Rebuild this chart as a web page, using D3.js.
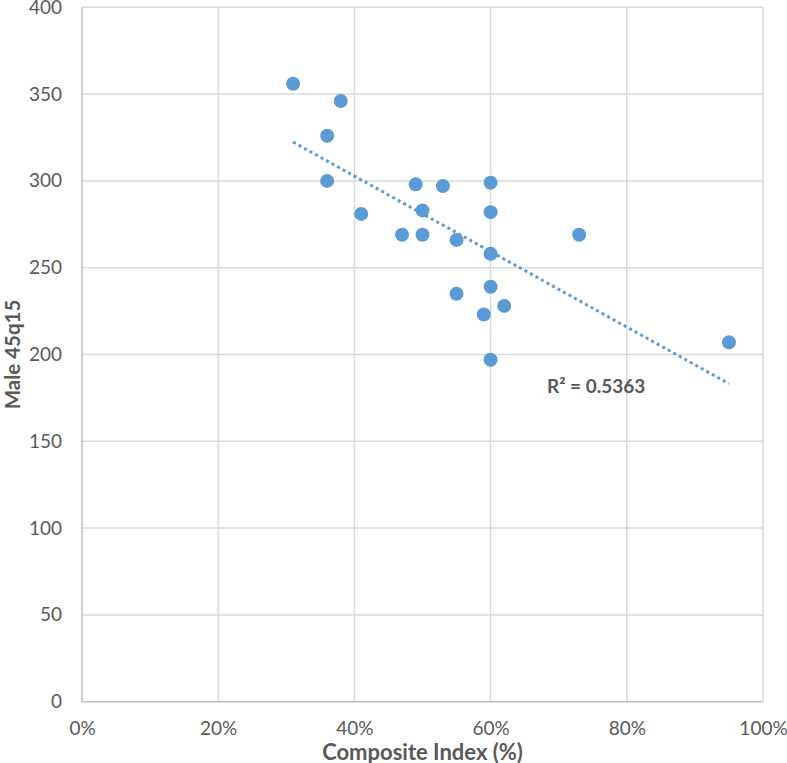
<!DOCTYPE html>
<html>
<head>
<meta charset="utf-8">
<script src="https://cdn.jsdelivr.net/npm/d3@7"></script>
<style>
  html, body { margin: 0; padding: 0; background: #fff; }
  svg { display: block; }
</style>
</head>
<body>
<svg id="chart" width="787" height="763"></svg>
<script>
// Composite Index (fraction) for each country
const compositeIndex = [0.31, 0.38, 0.36, 0.36, 0.41, 0.47, 0.49, 0.53, 0.60, 0.50, 0.60, 0.50,
                        0.55, 0.73, 0.60, 0.60, 0.55, 0.62, 0.59, 0.60, 0.95];
// Male 45q15 values
const male45q15 = [356, 346, 326, 300, 281, 269, 298, 297, 299, 283, 282, 269,
                   266, 269, 258, 239, 235, 228, 223, 197, 207];
const xTicks = [0, 0.2, 0.4, 0.6, 0.8, 1.0];
const yTicks = [0, 50, 100, 150, 200, 250, 300, 350, 400];
const xTitle = "Composite Index (%)";
const yTitle = "Male 45q15";
const r2Label = "R² = 0.5363";

(function () {
const svg = d3.select("#chart");
const pLeft = 82, pRight = 763, pTop = 7.3, pBottom = 701.7;
const font = "Lato, 'Open Sans', sans-serif";
const textColor = "#595959";

const x = d3.scaleLinear().domain([0, 1]).range([pLeft, pRight]);
const y = d3.scaleLinear().domain([0, 400]).range([pBottom, pTop]);

// gridlines
svg.append("g").selectAll("line").data(yTicks.filter(d => d > 0)).join("line")
  .attr("x1", pLeft).attr("x2", pRight)
  .attr("y1", d => y(d)).attr("y2", d => y(d))
  .attr("stroke", "#d9d9d9").attr("stroke-width", 1.5);
svg.append("g").selectAll("line").data(xTicks.filter(d => d > 0)).join("line")
  .attr("y1", pTop).attr("y2", pBottom)
  .attr("x1", d => x(d)).attr("x2", d => x(d))
  .attr("stroke", "#d9d9d9").attr("stroke-width", 1.5);

// axes lines
svg.append("line").attr("x1", pLeft).attr("x2", pLeft).attr("y1", pTop).attr("y2", pBottom)
  .attr("stroke", "#bfbfbf").attr("stroke-width", 1.5);
svg.append("line").attr("x1", pLeft).attr("x2", pRight).attr("y1", pBottom).attr("y2", pBottom)
  .attr("stroke", "#bfbfbf").attr("stroke-width", 1.5);

// axis tick labels via d3 axes
const yAxis = d3.axisLeft(y).tickValues(yTicks).tickSize(0).tickPadding(20);
const gy = svg.append("g").attr("transform", `translate(${pLeft},0)`).call(yAxis);
gy.select(".domain").remove();
gy.selectAll("text").attr("font-family", font).attr("font-size", 19).attr("fill", textColor);

const xAxis = d3.axisBottom(x).tickValues(xTicks).tickSize(0).tickPadding(20).tickFormat(d3.format(".0%"));
const gx = svg.append("g").attr("transform", `translate(0,${pBottom})`).call(xAxis);
gx.select(".domain").remove();
gx.selectAll("text").attr("font-family", font).attr("font-size", 19).attr("fill", textColor);

// trendline (linear least squares)
const n = compositeIndex.length;
const mx = d3.mean(compositeIndex), my = d3.mean(male45q15);
let sxy = 0, sxx = 0;
for (let i = 0; i < n; i++) {
  sxy += (compositeIndex[i] - mx) * (male45q15[i] - my);
  sxx += (compositeIndex[i] - mx) ** 2;
}
const slope = sxy / sxx, intercept = my - slope * mx;
const [xmin, xmax] = d3.extent(compositeIndex);
svg.append("line")
  .attr("x1", x(xmin)).attr("y1", y(intercept + slope * xmin))
  .attr("x2", x(xmax)).attr("y2", y(intercept + slope * xmax))
  .attr("stroke", "#5b9bd5").attr("stroke-width", 3)
  .attr("stroke-dasharray", "3,3.3");

// points
svg.append("g").selectAll("circle").data(compositeIndex.map((d, i) => [d, male45q15[i]])).join("circle")
  .attr("cx", d => x(d[0])).attr("cy", d => y(d[1])).attr("r", 7)
  .attr("fill", "#5b9bd5");

// R² label
svg.append("text").attr("x", x(0.755)).attr("y", y(182)).attr("text-anchor", "middle")
  .attr("dominant-baseline", "central")
  .attr("font-family", font).attr("font-weight", "bold").attr("font-size", 19)
  .attr("fill", textColor).text(r2Label);

// titles
svg.append("text").attr("x", (pLeft + pRight) / 2).attr("y", 751).attr("text-anchor", "middle")
  .attr("dominant-baseline", "central")
  .attr("font-family", font).attr("font-weight", "bold").attr("font-size", 22)
  .attr("fill", textColor).text(xTitle);
svg.append("text").attr("transform", `translate(12,${(pTop + pBottom) / 2}) rotate(-90)`)
  .attr("text-anchor", "middle").attr("dominant-baseline", "central")
  .attr("font-family", font).attr("font-weight", "bold").attr("font-size", 20.5)
  .attr("fill", textColor).text(yTitle);
})();
</script>
</body>
</html>
